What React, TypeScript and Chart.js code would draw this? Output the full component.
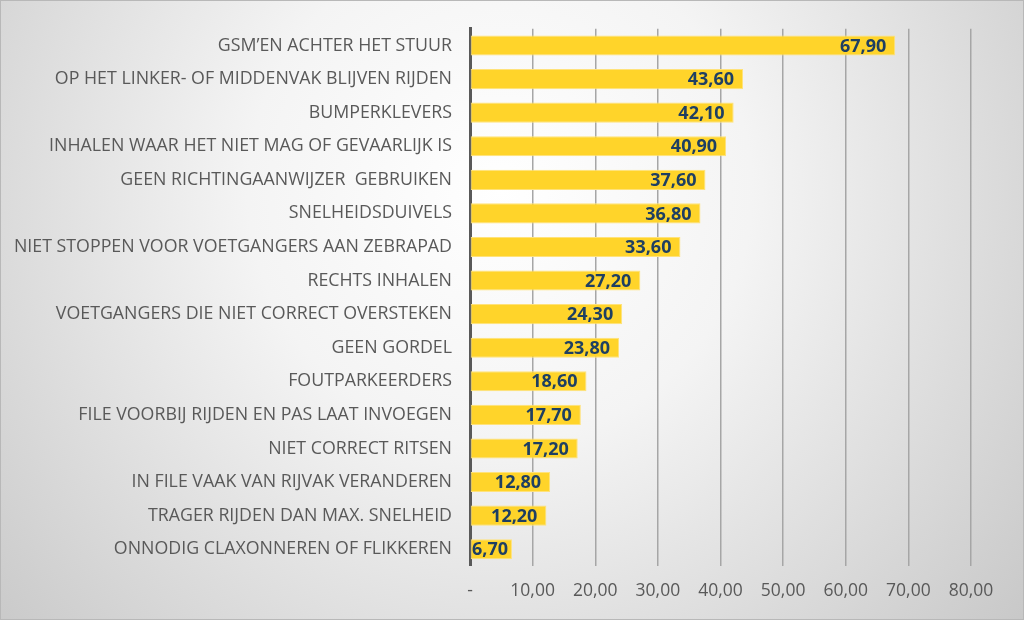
import React, { useEffect, useRef } from "react";
import { Chart, registerables } from "chart.js";

Chart.register(...registerables);

const categories = [
  "GSM’EN ACHTER HET STUUR",
  "OP HET LINKER- OF MIDDENVAK BLIJVEN RIJDEN",
  "BUMPERKLEVERS",
  "INHALEN WAAR HET NIET MAG OF GEVAARLIJK IS",
  "GEEN RICHTINGAANWIJZER  GEBRUIKEN",
  "SNELHEIDSDUIVELS",
  "NIET STOPPEN VOOR VOETGANGERS AAN ZEBRAPAD",
  "RECHTS INHALEN",
  "VOETGANGERS DIE NIET CORRECT OVERSTEKEN",
  "GEEN GORDEL",
  "FOUTPARKEERDERS",
  "FILE VOORBIJ RIJDEN EN PAS LAAT INVOEGEN",
  "NIET CORRECT RITSEN",
  "IN FILE VAAK VAN RIJVAK VERANDEREN",
  "TRAGER RIJDEN DAN MAX. SNELHEID",
  "ONNODIG CLAXONNEREN OF FLIKKEREN",
];

const values = [67.9, 43.6, 42.1, 40.9, 37.6, 36.8, 33.6, 27.2, 24.3, 23.8, 18.6, 17.7, 17.2, 12.8, 12.2, 6.7];

const xMin = 0;
const xMax = 80;
const xStep = 10;

const fmt = (v: number) => (v === 0 ? "-" : v.toFixed(2).replace(".", ","));

const bgPlugin = {
  id: "bgPlugin",
  beforeDraw(chart: any) {
    const { ctx, width, height } = chart;
    ctx.save();
    const g = ctx.createRadialGradient(500, 190, 0, 500, 190, 720);
    g.addColorStop(0, "#ffffff");
    g.addColorStop(0.35, "#f4f4f4");
    g.addColorStop(1, "#c4c4c4");
    ctx.fillStyle = g;
    ctx.fillRect(0, 0, width, height);
    ctx.strokeStyle = "#b8b8b8";
    ctx.lineWidth = 1;
    ctx.strokeRect(0.5, 0.5, width - 1, height - 1);
    ctx.restore();
  },
};

const labelPlugin = {
  id: "labelPlugin",
  afterDatasetsDraw(chart: any) {
    const { ctx, chartArea } = chart;
    const meta = chart.getDatasetMeta(0);
    ctx.save();
    ctx.font = "bold 18px 'Open Sans'";
    ctx.fillStyle = "#1E3F62";
    ctx.textAlign = "right";
    ctx.textBaseline = "middle";
    meta.data.forEach((bar: any, i: number) => {
      const txt = fmt(values[i]);
      const w = ctx.measureText(txt).width;
      const x = Math.max(bar.x - 9, chartArea.left + 2 + w);
      ctx.fillText(txt, x, bar.y + 1);
    });
    ctx.restore();
  },
};

export default function App() {
  const ref = useRef<HTMLCanvasElement>(null);
  useEffect(() => {
    const chart = new Chart(ref.current!, {
      type: "bar",
      data: {
        labels: categories,
        datasets: [
          {
            data: values,
            backgroundColor: "#FFD42A",
            borderColor: "#FFE27A",
            borderWidth: 1,
            borderSkipped: false,
            barPercentage: 0.6,
            categoryPercentage: 1,
          },
        ],
      },
      options: {
        indexAxis: "y",
        animation: false,
        responsive: false,
        maintainAspectRatio: false,
        layout: { padding: { top: 25, right: 53, bottom: 0, left: 0 } },
        plugins: { legend: { display: false }, tooltip: { enabled: false } },
        scales: {
          x: {
            min: xMin,
            max: xMax,
            ticks: {
              stepSize: xStep,
              padding: 15,
              color: "#595959",
              font: { family: "'Open Sans'", size: 17.5 },
              callback: (v: any) => fmt(Number(v)),
            },
            grid: { color: "#A6A6A6", lineWidth: 1.5, drawTicks: false },
            border: { display: false },
            afterFit: (s: any) => {
              s.height = 54;
            },
          },
          y: {
            ticks: {
              padding: 18,
              color: "#595959",
              font: { family: "'Open Sans'", size: 17.8 },
              autoSkip: false,
            },
            grid: { display: false, drawTicks: false },
            border: { display: true, color: "#595959", width: 3 },
            afterFit: (s: any) => {
              s.width = 470;
            },
          },
        },
      },
      plugins: [bgPlugin, labelPlugin],
    });
    return () => chart.destroy();
  }, []);
  return (
    <div style={{ position: "fixed", left: 0, top: 0, width: 1024, height: 620 }}>
      <canvas ref={ref} width={1024} height={620} style={{ width: 1024, height: 620 }} />
    </div>
  );
}
